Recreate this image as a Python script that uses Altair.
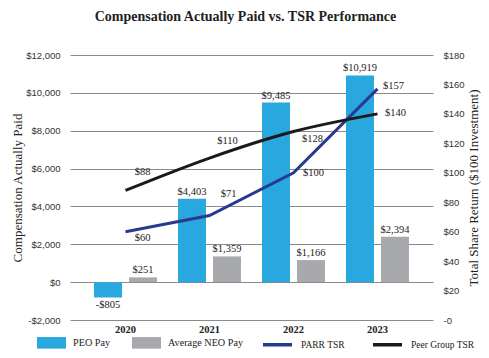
import altair as alt
import pandas as pd

# ---- data ----
years = ["2020", "2021", "2022", "2023"]
peo_pay = [-805, 4403, 9485, 10919]
neo_pay = [251, 1359, 1166, 2394]
parr_tsr = [60, 71, 100, 157]
peer_tsr = [88, 110, 128, 140]

bar_series = ["PEO Pay", "Average NEO Pay"]
line_series = ["PARR TSR", "Peer Group TSR"]
left_ticks = [-2000, 0, 2000, 4000, 6000, 8000, 10000, 12000]
right_ticks = [0, 20, 40, 60, 80, 100, 120, 140, 160, 180]

bars_df = pd.DataFrame({
    "year": years * 2,
    "series": [bar_series[0]] * len(years) + [bar_series[1]] * len(years),
    "value": peo_pay + neo_pay,
})
lines_df = pd.DataFrame({
    "year": years * 2,
    "series": [line_series[0]] * len(years) + [line_series[1]] * len(years),
    "tsr": parr_tsr + peer_tsr,
})

# ---- styles ----
SERIF = "Liberation Serif"
SANS = "Liberation Sans"
TXT = "#222222"
bar_colors = ["#29A8E0", "#A7A9AC"]
line_colors = ["#283A8E", "#1A1A1A"]

# label offsets (dx, dy) per TSR point
tsr_offsets = {
    ("Peer Group TSR", "2020"): (17, -18),
    ("PARR TSR", "2020"): (17, 6),
    ("Peer Group TSR", "2021"): (18, -17),
    ("PARR TSR", "2021"): (19, -21),
    ("Peer Group TSR", "2022"): (19, 7),
    ("PARR TSR", "2022"): (20, 0),
    ("Peer Group TSR", "2023"): (18, -1),
    ("PARR TSR", "2023"): (16, -3),
}

x_enc = alt.X(
    "year:N", sort=years,
    scale=alt.Scale(paddingInner=0.25, paddingOuter=0.286),
    axis=alt.Axis(title=None, labelFont=SERIF, labelFontWeight="bold",
                  labelFontSize=10.5, labelColor=TXT, ticks=False,
                  domain=False, labelPadding=4, labelAngle=0),
)
xoff_enc = alt.XOffset("series:N", sort=bar_series,
                       scale=alt.Scale(domain=bar_series, paddingInner=0.2, paddingOuter=0))

y_left = alt.Y(
    "value:Q",
    scale=alt.Scale(domain=[-2000, 12000], nice=False),
    axis=alt.Axis(
        values=left_ticks,
        labelExpr="datum.value < 0 ? '-$' + format(-datum.value, ',') : '$' + format(datum.value, ',')",
        title="Compensation Actually Paid", titleFont=SERIF, titleFontSize=13,
        titleFontWeight="normal", titleColor=TXT,
        labelFont=SANS, labelFontSize=9.5, labelColor="#333333",
        ticks=False, domain=False, grid=True, gridColor="#8a8a8a",
        gridWidth=1, labelPadding=10, titlePadding=1,
    ),
)

y_right = alt.Y(
    "tsr:Q",
    scale=alt.Scale(domain=[0, 180], nice=False),
    axis=alt.Axis(
        orient="right", values=right_ticks,
        labelExpr="datum.value == 0 ? '-0' : '$' + datum.value",
        title="Total Share Return ($100 Investment)", titleFont=SERIF,
        titleFontSize=13, titleFontWeight="normal", titleColor=TXT,
        titleAngle=270,
        labelFont=SANS, labelFontSize=9.5, labelColor="#333333",
        ticks=False, domain=False, grid=False, labelPadding=10, titlePadding=16,
    ),
)

bar_color = alt.Color(
    "series:N", sort=bar_series,
    scale=alt.Scale(domain=bar_series, range=bar_colors),
    legend=alt.Legend(
        title=None, orient="none", legendX=-33, legendY=273,
        direction="horizontal", symbolType="M-1,-0.4H1V0.4H-1Z",
        symbolSize=841, symbolStrokeWidth=0, labelFont=SERIF, labelFontSize=10.2,
        labelColor=TXT, labelOffset=7, columnPadding=21,
    ),
)
line_color = alt.Color(
    "series:N", sort=line_series,
    scale=alt.Scale(domain=line_series, range=line_colors),
    legend=alt.Legend(
        title=None, orient="none", legendX=191, legendY=273,
        direction="horizontal", symbolType="stroke", symbolSize=841,
        symbolStrokeWidth=3.5, labelFont=SERIF, labelFontSize=9.5,
        labelColor=TXT, labelOffset=7, columnPadding=21,
    ),
)

label_calc = "datum.value < 0 ? '-$' + format(-datum.value, ',') : '$' + format(datum.value, ',')"

base_bars = alt.Chart(bars_df)
bars = base_bars.mark_bar().encode(x=x_enc, xOffset=xoff_enc, y=y_left, color=bar_color)
bar_text_pos = base_bars.transform_filter("datum.value >= 0").transform_calculate(
    label=label_calc
).mark_text(font=SERIF, fontSize=10.5, color=TXT, baseline="bottom", dy=-2).encode(
    x=x_enc, xOffset=xoff_enc, y=y_left, text="label:N"
)
bar_text_neg = base_bars.transform_filter("datum.value < 0").transform_calculate(
    label=label_calc
).mark_text(font=SERIF, fontSize=10.5, color=TXT, baseline="top", dy=3).encode(
    x=x_enc, xOffset=xoff_enc, y=y_left, text="label:N"
)
bar_group = alt.layer(bars, bar_text_pos, bar_text_neg)

base_lines = alt.Chart(lines_df)
parr_line = base_lines.transform_filter(f"datum.series == '{line_series[0]}'").mark_line(
    strokeWidth=3, interpolate="linear"
).encode(x=x_enc, y=y_right, color=line_color)
peer_line = base_lines.transform_filter(f"datum.series == '{line_series[1]}'").mark_line(
    strokeWidth=3, interpolate="monotone"
).encode(x=x_enc, y=y_right, color=line_color)

tsr_labels = []
for (ser, yr), (ddx, ddy) in tsr_offsets.items():
    tsr_labels.append(
        base_lines.transform_filter(
            f"datum.series == '{ser}' && datum.year == '{yr}'"
        ).transform_calculate(label="'$' + datum.tsr").mark_text(
            font=SERIF, fontSize=10.5, color=TXT, dx=ddx, dy=ddy, baseline="middle"
        ).encode(x=x_enc, y=y_right, text="label:N")
    )

line_group = alt.layer(parr_line, peer_line, *tsr_labels)

chart = alt.layer(bar_group, line_group).resolve_scale(
    y="independent", color="independent"
).properties(
    width=363, height=265,
    autosize=alt.AutoSizeParams(type="none"),
    padding={"left": 62, "top": 47, "right": 48, "bottom": 30},
    title=alt.TitleParams(
        "Compensation Actually Paid vs. TSR Performance", font=SERIF,
        fontSize=14, fontWeight="bold", color=TXT, offset=26,
        anchor="middle", dx=-6,
    ),
).configure_view(stroke=None)

chart.save("out.html", embed_options={"renderer": "svg", "actions": False})
